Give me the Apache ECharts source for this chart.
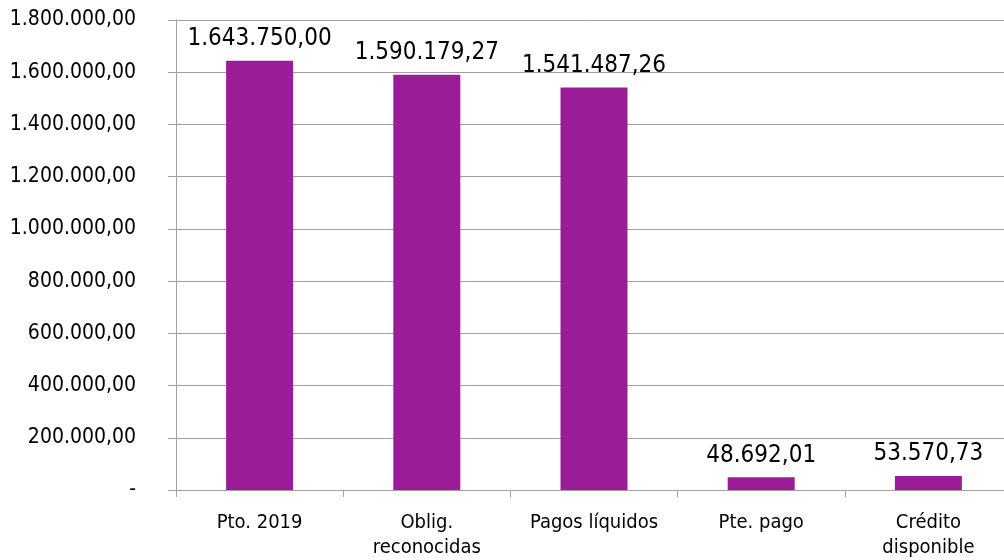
<!DOCTYPE html>
<html>
<head>
<meta charset="utf-8">
<script src="https://cdn.jsdelivr.net/npm/echarts@6/dist/echarts.min.js"></script>
<style>html,body{margin:0;padding:0;background:#fff}#c{width:1004px;height:560px}</style>
</head>
<body>
<div id="c"></div>
<script>
const categories = ['Pto. 2019', 'Oblig.\nreconocidas', 'Pagos líquidos', 'Pte. pago', 'Crédito\ndisponible'];
const values = [1643750.00, 1590179.27, 1541487.26, 48692.01, 53570.73];
const yMin = 0, yMax = 1800000, yStep = 200000;

function fmt(v, dec) {
  if (v === 0) return '-';
  const parts = v.toFixed(dec).split('.');
  const int = parts[0].replace(/\B(?=(\d{3})+(?!\d))/g, '.');
  return int + ',' + parts[1];
}

const FONT = '"DejaVu Sans Condensed", "DejaVu Sans", sans-serif';
const chart = echarts.init(document.getElementById('c'), null, {renderer: 'canvas'});
chart.setOption({
  backgroundColor: '#fff',
  animation: false,
  grid: {left: 176, width: 836, top: 20, height: 470, containLabel: false, outerBoundsMode: 'none'},
  xAxis: {
    type: 'category',
    data: categories,
    axisLine: {lineStyle: {color: '#a0a0a0', width: 1}},
    axisTick: {show: true, length: 7, alignWithLabel: false, lineStyle: {color: '#a0a0a0'}},
    axisLabel: {color: '#000', fontFamily: FONT, fontSize: 20, margin: 20, lineHeight: 25, interval: 0}
  },
  yAxis: {
    type: 'value',
    min: yMin, max: yMax, interval: yStep,
    axisLine: {show: true, lineStyle: {color: '#a0a0a0', width: 1}},
    axisTick: {show: true, length: 8, lineStyle: {color: '#a0a0a0'}},
    splitLine: {lineStyle: {color: '#a0a0a0', width: 1}},
    axisLabel: {color: '#000', fontFamily: FONT, fontSize: 21, margin: 40, formatter: v => fmt(v, 2)}
  },
  series: [{
    type: 'bar',
    data: values,
    barWidth: 67,
    itemStyle: {color: '#9a1d97'},
    label: {show: true, position: 'top', distance: 10, color: '#000', fontFamily: FONT, fontSize: 24, formatter: p => fmt(p.value, 2)}
  }]
});
</script>
</body>
</html>
